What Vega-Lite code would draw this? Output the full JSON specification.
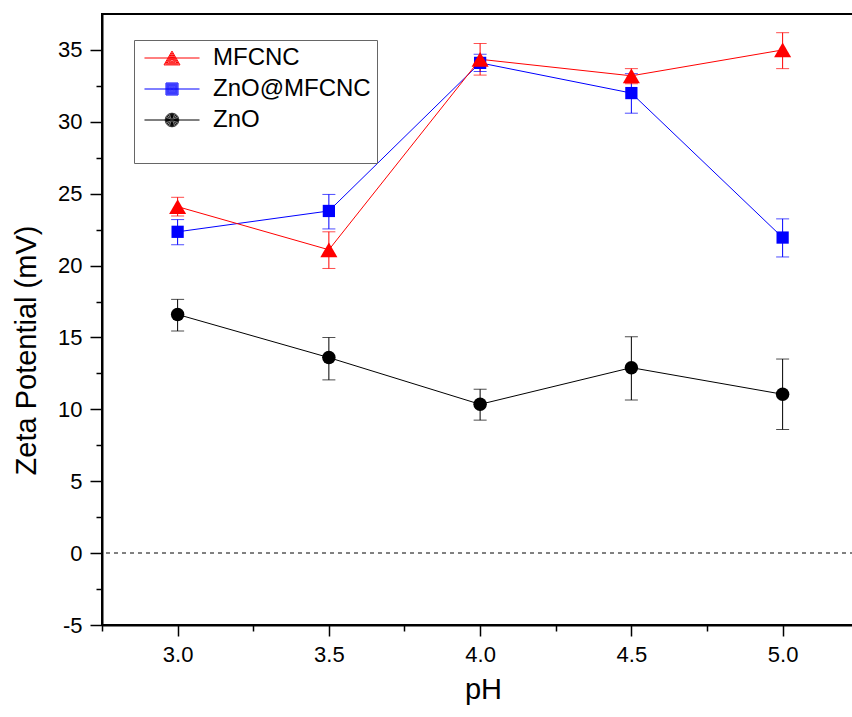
{
  "$schema": "https://vega.github.io/schema/vega-lite/v6.json",
  "autosize": "none",
  "padding": {"left": 102, "top": 14, "right": 0, "bottom": 92},
  "width": 760,
  "height": 611,
  "background": "white",
  "config": {
    "font": "Liberation Sans",
    "view": {"stroke": "black", "strokeWidth": 2},
    "axis": {"grid": false, "domainColor": "black", "domainWidth": 2, "tickColor": "black", "tickWidth": 1.5, "labelColor": "black", "titleColor": "black", "labelFont": "Liberation Sans", "titleFont": "Liberation Sans", "labelFontSize": 22, "titleFontSize": 29, "titleFontWeight": "normal"}
  },
  "data": {
    "values": [
      {"pH": 3.0, "series": "ZnO", "zeta": 16.6, "lo": 15.45, "hi": 17.65},
      {"pH": 3.5, "series": "ZnO", "zeta": 13.6, "lo": 12.05, "hi": 15.0},
      {"pH": 4.0, "series": "ZnO", "zeta": 10.35, "lo": 9.25, "hi": 11.4},
      {"pH": 4.5, "series": "ZnO", "zeta": 12.9, "lo": 10.65, "hi": 15.05},
      {"pH": 5.0, "series": "ZnO", "zeta": 11.05, "lo": 8.6, "hi": 13.5},
      {"pH": 3.0, "series": "ZnO@MFCNC", "zeta": 22.35, "lo": 21.45, "hi": 23.2},
      {"pH": 3.5, "series": "ZnO@MFCNC", "zeta": 23.8, "lo": 22.55, "hi": 24.95},
      {"pH": 4.0, "series": "ZnO@MFCNC", "zeta": 34.1, "lo": 33.5, "hi": 34.7},
      {"pH": 4.5, "series": "ZnO@MFCNC", "zeta": 32.0, "lo": 30.6, "hi": 33.35},
      {"pH": 5.0, "series": "ZnO@MFCNC", "zeta": 21.95, "lo": 20.6, "hi": 23.25},
      {"pH": 3.0, "series": "MFCNC", "zeta": 24.1, "lo": 23.45, "hi": 24.75},
      {"pH": 3.5, "series": "MFCNC", "zeta": 21.1, "lo": 19.8, "hi": 22.35},
      {"pH": 4.0, "series": "MFCNC", "zeta": 34.35, "lo": 33.25, "hi": 35.45},
      {"pH": 4.5, "series": "MFCNC", "zeta": 33.2, "lo": 32.65, "hi": 33.7},
      {"pH": 5.0, "series": "MFCNC", "zeta": 35.0, "lo": 33.7, "hi": 36.2}
    ]
  },
  "encoding": {
    "x": {
      "field": "pH", "type": "quantitative",
      "scale": {"domain": [2.75, 5.2624], "nice": false, "zero": false},
      "axis": {
        "title": "pH",
        "values": [2.75, 3, 3.25, 3.5, 3.75, 4, 4.25, 4.5, 4.75, 5],
        "labelExpr": "datum.value % 0.5 == 0 ? format(datum.value, '.1f') : ''",
        "tickSize": {"condition": {"test": "datum.value % 0.5 != 0", "value": 6}, "value": 11},
        "labelPadding": 8,
        "titlePadding": 10,
        "titleX": 381
      }
    },
    "y": {
      "field": "zeta", "type": "quantitative",
      "scale": {"domain": [-5, 37.5], "nice": false, "zero": false},
      "axis": {
        "title": "Zeta Potential (mV)",
        "values": [-5, -2.5, 0, 2.5, 5, 7.5, 10, 12.5, 15, 17.5, 20, 22.5, 25, 27.5, 30, 32.5, 35],
        "labelExpr": "datum.value % 5 == 0 ? '' + datum.value : ''",
        "tickSize": {"condition": {"test": "datum.value % 5 != 0", "value": 6}, "value": 12},
        "labelPadding": 8,
        "titlePadding": 16,
        "titleY": 336
      }
    },
    "color": {
      "field": "series", "type": "nominal",
      "scale": {"domain": ["MFCNC", "ZnO@MFCNC", "ZnO"], "range": ["#ff0000", "#0000ff", "#000000"]},
      "legend": {
        "title": " ",
        "titleOrient": "bottom",
        "titleFontSize": 22,
        "titlePadding": 4,
        "orient": "none",
        "legendX": 32,
        "legendY": 26,
        "padding": 6,
        "strokeColor": "#666666",
        "fillColor": "white",
        "labelFontSize": 24,
        "labelFont": "Liberation Sans",
        "labelColor": "black",
        "labelOffset": 29,
        "symbolOffset": 20,
        "symbolSize": 256,
        "symbolOpacity": 1,
        "symbolStrokeWidth": 1,
        "rowPadding": 7
      }
    }
  },
  "layer": [
    {
      "mark": {"type": "point", "filled": true, "opacity": 0, "size": 256},
      "encoding": {
        "shape": {
          "field": "series", "type": "nominal",
          "scale": {
            "domain": ["MFCNC", "ZnO@MFCNC", "ZnO"],
            "range": [
              "M-3.44,0H3.44M0,-0.866L1,0.866L-1,0.866ZM0,-0.635L0.8,0.751L-0.8,0.751ZM0,-0.404L0.6,0.635L-0.6,0.635ZM0,-0.173L0.4,0.52L-0.4,0.52ZM0,0.058L0.2,0.404L-0.2,0.404Z",
              "M-3.44,0H3.44M-0.75,-0.75H0.75V0.75H-0.75ZM-0.62,-0.62H0.62V0.62H-0.62ZM-0.5,-0.5H0.5V0.5H-0.5ZM-0.38,-0.38H0.38V0.38H-0.38ZM-0.25,-0.25H0.25V0.25H-0.25ZM-0.12,-0.12H0.12V0.12H-0.12Z",
              "M-3.44,0H3.44M0.84,0A0.84,0.84,0,1,1,-0.84,0A0.84,0.84,0,1,1,0.84,0ZM0.71,0A0.71,0.71,0,1,1,-0.71,0A0.71,0.71,0,1,1,0.71,0ZM0.58,0A0.58,0.58,0,1,1,-0.58,0A0.58,0.58,0,1,1,0.58,0ZM0.45,0A0.45,0.45,0,1,1,-0.45,0A0.45,0.45,0,1,1,0.45,0ZM0.32,0A0.32,0.32,0,1,1,-0.32,0A0.32,0.32,0,1,1,0.32,0ZM0.19,0A0.19,0.19,0,1,1,-0.19,0A0.19,0.19,0,1,1,0.19,0ZM0.07,0A0.07,0.07,0,1,1,-0.07,0A0.07,0.07,0,1,1,0.07,0Z"
            ]
          }
        }
      }
    },
    {
      "mark": {"type": "rule", "color": "#808080", "strokeWidth": 1, "strokeDash": [4, 4]},
      "encoding": {"y": {"datum": 0}, "x": null, "color": null}
    },
    {
      "mark": {"type": "line", "strokeWidth": 1},
      "encoding": {"order": {"field": "pH"}}
    },
    {
      "mark": {"type": "rule", "strokeWidth": 1},
      "encoding": {"y": {"field": "lo", "type": "quantitative"}, "y2": {"field": "hi"}}
    },
    {
      "mark": {"type": "tick", "orient": "horizontal", "size": 13, "thickness": 1},
      "encoding": {"y": {"field": "lo", "type": "quantitative"}}
    },
    {
      "mark": {"type": "tick", "orient": "horizontal", "size": 13, "thickness": 1},
      "encoding": {"y": {"field": "hi", "type": "quantitative"}}
    },
    {
      "transform": [{"filter": "datum.series == 'ZnO'"}],
      "mark": {"type": "point", "filled": true, "opacity": 1, "strokeWidth": 0, "shape": "circle", "size": 182}
    },
    {
      "transform": [{"filter": "datum.series == 'ZnO@MFCNC'"}],
      "mark": {"type": "point", "filled": true, "opacity": 1, "strokeWidth": 0, "shape": "square", "size": 150}
    },
    {
      "transform": [{"filter": "datum.series == 'MFCNC'"}],
      "mark": {"type": "point", "filled": true, "opacity": 1, "strokeWidth": 0, "shape": "triangle-up", "size": 290}
    }
  ]
}
